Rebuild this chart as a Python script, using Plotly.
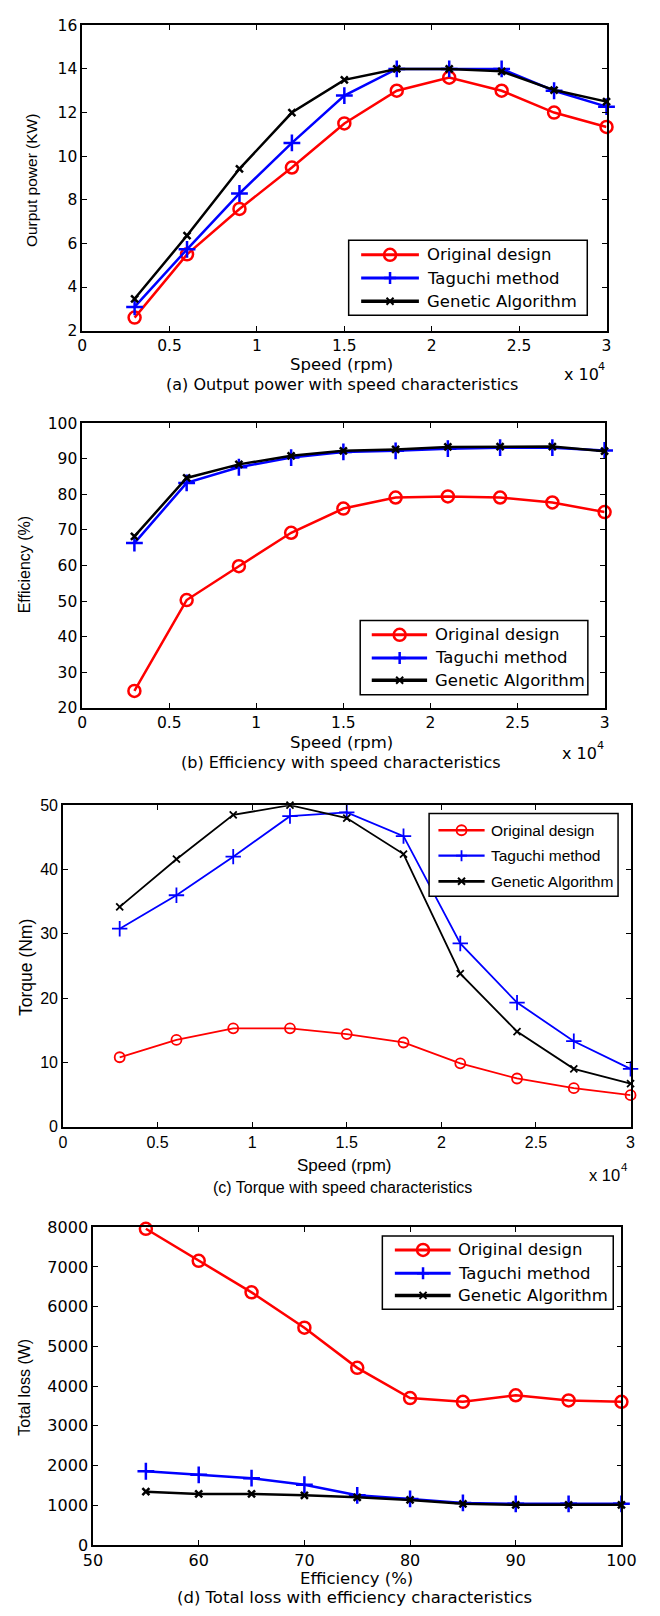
import plotly.graph_objects as go

# ---------------- data ----------------
speed_rpm = [3000, 6000, 9000, 12000, 15000, 18000, 21000, 24000, 27000, 30000]
speed_ticks = [0, 5000, 10000, 15000, 20000, 25000, 30000]
speed_tick_text = ["0", "0.5", "1", "1.5", "2", "2.5", "3"]

power_original = [2.6, 5.5, 7.58, 9.48, 11.5, 13.0, 13.6, 13.0, 12.0, 11.34]
power_taguchi = [3.09, 5.73, 8.29, 10.61, 12.78, 14.0, 14.0, 14.0, 13.0, 12.27]
power_ga = [3.46, 6.36, 9.42, 12.0, 13.5, 14.0, 14.0, 13.89, 13.03, 12.5]

eff_original = [24.8, 50.3, 59.8, 69.2, 76.0, 79.1, 79.4, 79.1, 77.7, 75.0]
eff_taguchi = [66.3, 83.2, 87.6, 90.3, 91.9, 92.2, 92.8, 93.1, 93.1, 92.3]
eff_ga = [68.2, 84.6, 88.4, 90.8, 92.2, 92.6, 93.3, 93.4, 93.4, 92.1]

torque_original = [10.8, 13.5, 15.3, 15.3, 14.4, 13.1, 9.85, 7.5, 6.0, 4.9]
torque_taguchi = [30.8, 36.0, 42.0, 48.3, 48.9, 45.2, 28.5, 19.3, 13.3, 9.0]
torque_ga = [34.2, 41.6, 48.5, 50.0, 48.0, 42.4, 23.8, 14.8, 9.0, 6.7]

efficiency_pct = [55, 60, 65, 70, 75, 80, 85, 90, 95, 100]
loss_original = [7960, 7155, 6360, 5470, 4460, 3700, 3605, 3770, 3640, 3605]
loss_taguchi = [1857, 1766, 1683, 1517, 1252, 1160, 1060, 1036, 1036, 1036]
loss_ga = [1343, 1285, 1285, 1252, 1200, 1136, 1036, 1011, 1011, 1011]

series_names = ["Original design", "Taguchi method", "Genetic Algorithm"]

# ---------------- helpers ----------------
W, H = 660, 1616
def px(x):
    return x / W
def py(y):
    return 1 - y / H

RED, BLUE, BLACK = "#ff0000", "#0000ff", "#000000"
DV = "DejaVu Sans, Verdana, sans-serif"
LS = "Liberation Sans, Arial, sans-serif"

fig = go.Figure()

# panel geometry in px: (left, right, top, bottom)
panels = {
    1: (75, 620, 16.5, 325.5),
    2: (75, 618, 419, 707.3),
    3: (55, 645, 805.7, 1131),
    4: (86.3, 635.5, 1232.7, 1554.3),
}

def add_series(n, xs, ys_list, lw, msz):
    ax = "" if n == 1 else str(n)
    styles = [
        dict(color=RED, symbol="circle-open", size=msz[0], lw=lw),
        dict(color=BLUE, symbol="cross-thin-open", size=msz[1], lw=lw),
        dict(color=BLACK, symbol="x-thin-open", size=msz[2], lw=lw),
    ]
    for name, ys, st in zip(series_names, ys_list, styles):
        fig.add_trace(go.Scatter(
            x=xs, y=ys, name=name, mode="lines+markers",
            xaxis="x" + ax, yaxis="y" + ax, showlegend=False,
            cliponaxis=False,
            line=dict(color=st["color"], width=st["lw"]),
            marker=dict(symbol=st["symbol"], size=st["size"], color=st["color"],
                        line=dict(color=st["color"], width=st["lw"]))
        ))

add_series(1, speed_rpm, [power_original, power_taguchi, power_ga], 2.5, (12, 12, 7))
add_series(2, speed_rpm, [eff_original, eff_taguchi, eff_ga], 2.5, (12, 12, 7))
add_series(3, speed_rpm, [torque_original, torque_taguchi, torque_ga], 1.8, (10, 11, 7))
add_series(4, efficiency_pct, [loss_original, loss_taguchi, loss_ga], 2.5, (12, 12, 7))

layout = dict(
    width=W, height=H, autosize=False,
    margin=dict(l=0, r=0, t=0, b=0),
    paper_bgcolor="white", plot_bgcolor="white",
    showlegend=False,
)

def axis_common(font):
    return dict(
        showline=True, linecolor="black", linewidth=1.5, mirror="ticks",
        ticks="inside", ticklen=5, tickwidth=1, tickcolor="black",
        showgrid=False, zeroline=False, tickfont=font,
    )

tick_fonts = {
    1: dict(family=DV, size=15.5, color="black"),
    2: dict(family=DV, size=15.5, color="black"),
    3: dict(family=LS, size=16, color="black"),
    4: dict(family=DV, size=16, color="black"),
}
yranges = {1: ([2, 16], 2), 2: ([20, 100], 10), 3: ([0, 50], 10), 4: ([0, 8000], 1000)}

for n, (l, r, t, b) in panels.items():
    ax = "" if n == 1 else str(n)
    xa = axis_common(tick_fonts[n])
    xa.update(domain=[px(l), px(r)], anchor="y" + ax)
    if n < 4:
        xa.update(range=[0, 30000], tickmode="array", tickvals=speed_ticks, ticktext=speed_tick_text)
    else:
        xa.update(range=[50, 100], tickmode="linear", tick0=50, dtick=10)
    ya = axis_common(tick_fonts[n])
    ya.update(domain=[py(b), py(t)], anchor="x" + ax,
              range=yranges[n][0], tickmode="linear", dtick=yranges[n][1])
    layout["xaxis" + ax] = xa
    layout["yaxis" + ax] = ya

fig.update_layout(**layout)

annotations = []
def text(t, x, y, size, family=DV, xanchor="center", angle=0):
    annotations.append(dict(
        text=t, x=px(x), y=py(y), xref="paper", yref="paper",
        xanchor=xanchor, yanchor="middle", showarrow=False, textangle=angle,
        font=dict(family=family, size=size, color="black")))

def exponent(x_right, y, size, family=DV):
    # "x 10" followed by a raised "4"
    text("4", x_right, y - 8, size * 0.7, family, xanchor="right")
    text("x 10", x_right - size * 0.45, y, size, family, xanchor="right")

# panel (a)
text("Ourput power (KW)", 23, 173, 15.5, LS, angle=-90)
text("Speed (rpm)", 345, 360, 16.5)
exponent(621, 370, 16)
text("(a) Output power with speed characteristics", 345, 380, 16)
# panel (b)
text("Efficiency (%)", 14.5, 562, 16, LS, angle=-90)
text("Speed (rpm)", 344.5, 742.7, 16.5)
exponent(619, 753, 16)
text("(b) Efficiency with speed characteristics", 344.5, 762.3, 16)
# panel (c)
text("Torque (Nm)", 16, 970, 17.5, LS, angle=-90)
text("Speed (rpm)", 347, 1170, 17, LS)
exponent(644, 1180, 16.5, LS)
text("(c) Torque with speed characteristics", 346, 1193, 16, LS)
# panel (d)
text("Total loss (W)", 14.7, 1395, 16, LS, angle=-90)
text("Efficiency (%)", 360, 1588, 16.5)
text("(d) Total loss with efficiency characteristics", 357.7, 1607.7, 16.5)

# ---------------- legends (drawn as boxes, samples and labels) ----------------
shapes = []
def legend(box, line_x, mark_x, text_x, rows, lw, msz, size, family):
    x0, x1, y0, y1 = box
    shapes.append(dict(type="rect", xref="paper", yref="paper",
                       x0=px(x0), x1=px(x1), y0=py(y1), y1=py(y0),
                       line=dict(color="black", width=1.5), fillcolor="white", layer="above"))
    colors = [RED, BLUE, BLACK]
    for i, (c, ry) in enumerate(zip(colors, rows)):
        shapes.append(dict(type="line", xref="paper", yref="paper",
                           x0=px(line_x[0]), x1=px(line_x[1]), y0=py(ry), y1=py(ry),
                           line=dict(color=c, width=lw + (0.5 if i < 2 else 1)), layer="above"))
        base = dict(xref="paper", yref="paper", xsizemode="pixel", ysizemode="pixel",
                    xanchor=px(mark_x), yanchor=py(ry), layer="above")
        if i == 0:
            r = msz[0] / 2
            shapes.append(dict(type="circle", x0=-r, x1=r, y0=-r, y1=r,
                               line=dict(color=c, width=lw), fillcolor="rgba(0,0,0,0)", **base))
        elif i == 1:
            r = msz[1] / 2
            shapes.append(dict(type="path", path=f"M{-r},0L{r},0M0,{-r}L0,{r}",
                               line=dict(color=c, width=lw), **base))
        else:
            r = msz[2] / 2
            shapes.append(dict(type="path", path=f"M{-r},{-r}L{r},{r}M{-r},{r}L{r},{-r}",
                               line=dict(color=c, width=2), **base))
        text(series_names[i], text_x, ry, size, family, xanchor="left")

legend((352, 600, 234, 310), (365, 425), 395, 431, (248.7, 272.3, 295.7), 2.5, (12, 12, 7), 16.5, DV)
legend((364, 600.6, 618.7, 694), (376, 433.5), 405, 439.5, (633.3, 656.7, 679.3), 2.5, (12, 12, 7), 16.5, DV)
legend((435.6, 632, 814, 897.7), (445.3, 493.3), 469.3, 498, (831, 856.7, 882.7), 1.8, (10, 11, 7), 15.5, LS)
legend((387, 627, 1241.7, 1315.7), (400, 458), 429.3, 464, (1255.7, 1279.3, 1301.7), 2.5, (12, 12, 7), 16.5, DV)

fig.update_layout(annotations=annotations, shapes=shapes)
fig.write_html("out.html")
